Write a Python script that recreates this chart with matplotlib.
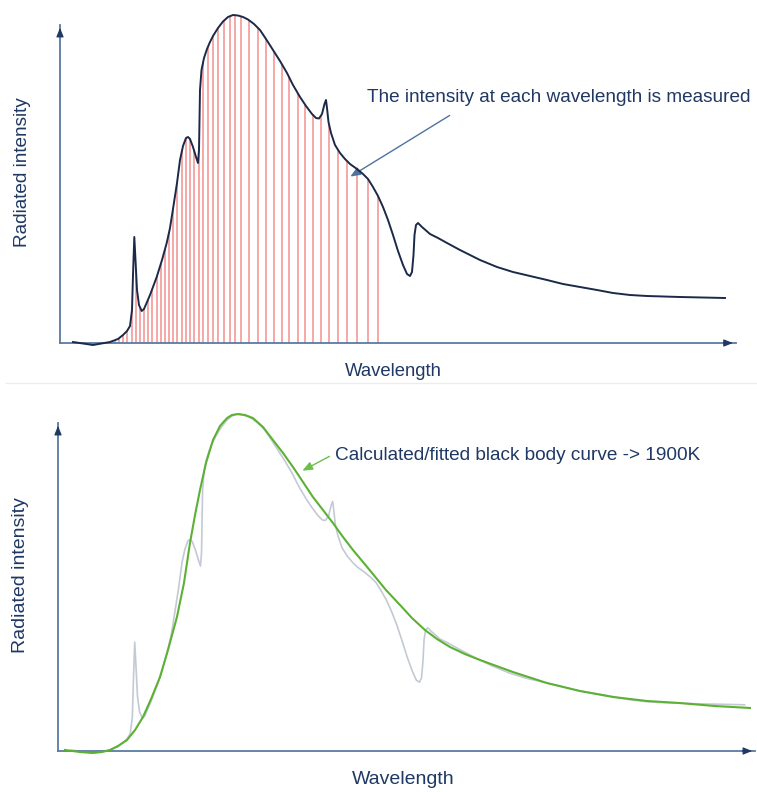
import numpy as np
import matplotlib
matplotlib.use("Agg")
import matplotlib.pyplot as plt

plt.rcParams['font.family'] = ['Liberation Sans', 'DejaVu Sans']

# Measured emission spectrum (arbitrary wavelength / intensity units)
wavelength = [13, 33, 50, 58, 63, 67, 70, 72, 73, 74.3,
              75.5, 77, 79, 81.7, 84, 90, 96.7, 102, 106.7, 110,
              113.3, 117, 120, 123, 126, 128, 130, 133, 136, 138,
              139, 139.5, 140, 141.5, 144, 147, 150, 153, 158, 163,
              168, 173, 178, 183, 188, 194, 200, 206, 213, 220,
              227, 233, 240, 246, 252, 256, 259, 262, 264.5, 266,
              267, 268.5, 271, 275, 280, 285, 290, 297, 303, 308,
              313, 318, 323, 328, 333, 338, 343, 347, 350, 352,
              353.5, 354.5, 356, 358, 362, 370, 378, 387, 400, 420,
              437, 453, 470, 487, 503, 520, 537, 553, 570, 587,
              620, 665]
intensity = [1, -2, 1, 4, 8, 12, 17, 33, 68, 106,
             83, 53, 38, 32, 34, 48, 66, 83, 100, 115,
             136, 160, 183, 197, 205, 206, 204, 196, 186, 180,
             193, 223, 253, 273, 285, 294, 301, 307, 315, 321.5,
             326, 328, 327.5, 326, 323.5, 319, 313, 304, 293, 282,
             270, 258, 246, 237, 229, 225, 224.5, 229, 239, 243,
             235, 221, 210, 198, 190, 184, 179, 174, 169, 164,
             156, 147, 136, 123, 108, 92, 78, 69, 67, 71,
             88, 108, 118, 120, 116, 109, 105, 100, 93, 83,
             76, 71, 67, 63, 59, 56, 53, 50, 48, 47,
             46, 45]

# Wavelengths at which the intensity is sampled
sample_wavelengths = [55, 59, 63, 67, 72, 76, 80, 84, 88, 92,
                      97, 101, 105, 109, 113, 117, 122, 126, 130, 134,
                      139, 143, 148, 153, 158, 164, 170, 175, 181, 189,
                      198, 206, 214, 222, 229, 238, 245, 253, 261, 269,
                      278, 287, 297, 308, 318]

# Fitted black body curve (1900 K)
fit_wavelength = [6.8, 21.3, 33.9, 42.6, 50.4, 58.1, 66.8, 74.6, 82.3, 90.1,
                  98.8, 106.5, 115.2, 122.0, 127.8, 132.7, 137.5, 143.3, 150.1, 156.9,
                  163.7, 168.5, 174.3, 181.1, 188.8, 198.5, 208.2, 217.9, 227.6, 237.3,
                  246.9, 256.6, 266.3, 276.0, 285.7, 295.4, 305.0, 317.6, 331.2, 342.8,
                  355.4, 367.0, 379.6, 394.1, 408.7, 440.6, 473.5, 505.5, 537.5, 570.4,
                  602.3, 636.2, 670.1]
fit_intensity = [1.0, -1.0, -1.9, -1.0, 1.0, 4.9, 10.7, 20.4, 33.1, 50.6,
                 72.0, 98.3, 130.5, 163.6, 202.5, 229.8, 254.1, 280.4, 302.8, 316.5,
                 324.2, 327.2, 328.1, 327.2, 324.2, 315.5, 302.8, 290.2, 276.5, 261.9,
                 247.3, 234.7, 222.0, 208.4, 195.7, 184.0, 172.3, 156.8, 142.2, 129.5,
                 117.8, 109.1, 101.3, 94.4, 88.6, 76.9, 66.2, 58.4, 52.6, 48.7,
                 46.7, 43.8, 41.9]

X_MAX, Y_MAX = 675, 316

NAVY = '#1f3864'
AXIS = '#5b7aa0'
TEXT = '#1f3864'
W, H = 757, 792

fig = plt.figure(figsize=(W / 100, H / 100), dpi=100)


def px_axes(x0, y0, x1, y1):
    # axes box placed by its pixel corners (left/bottom, right/top)
    return fig.add_axes([x0 / W, (H - y0) / H, (x1 - x0) / W, (y0 - y1) / H])


def draw_axes_arrows(ax, xtip, ytip):
    ax.plot([0, xtip], [0, 0], color=AXIS, lw=1.3, clip_on=False, zorder=3)
    ax.plot([0, 0], [0, ytip], color=AXIS, lw=1.3, clip_on=False, zorder=3)
    head = dict(arrowstyle='-|>,head_length=0.55,head_width=0.22', color=NAVY, lw=0.8)
    ax.annotate('', xy=(xtip, 0), xytext=(xtip - 15, 0), arrowprops=head,
                annotation_clip=False)
    ax.annotate('', xy=(0, ytip), xytext=(0, ytip - 12), arrowprops=head,
                annotation_clip=False)


def style(ax):
    ax.set_xlim(0, X_MAX)
    ax.set_ylim(0, Y_MAX)
    ax.axis('off')


# ---- Top panel: measured spectrum with sampled wavelengths ----
ax1 = px_axes(60, 343, 735, 27)
style(ax1)
sample_vals = np.interp(sample_wavelengths, wavelength, intensity)
ax1.vlines(sample_wavelengths, 0, sample_vals, colors='#f07f7f', alpha=0.8,
           lw=1.2, zorder=1, clip_on=False)
ax1.plot(wavelength, intensity, color='#1b2a48', lw=1.4, clip_on=False,
         zorder=4, solid_joinstyle='round')
draw_axes_arrows(ax1, 675.7, 318)
ax1.text(333, -29, 'Wavelength', ha='center', va='center',
         fontsize=13.3, color=TEXT)
ax1.text(-37, 171, 'Radiated intensity', ha='center', va='center',
         rotation=90, fontsize=13.7, color=TEXT)
ax1.text(307, 246, 'The intensity at each wavelength is measured',
         ha='left', va='center', fontsize=13.7, color=TEXT)
ax1.annotate('', xy=(288, 165), xytext=(392, 229),
             arrowprops=dict(arrowstyle='-|>,head_length=0.6,head_width=0.25',
                             color='#4f739e', lw=1.0), annotation_clip=False)

# faint separator between the panels
fig.add_artist(plt.Line2D([6 / W, 1], [(H - 383) / H] * 2, color='#ececec', lw=1.0))

# ---- Bottom panel: spectrum with fitted black body curve ----
ax2 = px_axes(58, 751, 755, 426.5)
style(ax2)
ax2.plot(wavelength, intensity, color='#c3cad4', lw=1.2, clip_on=False, zorder=2)
ax2.plot(fit_wavelength, fit_intensity, color='#5cb135', lw=1.5, clip_on=False,
         zorder=4, solid_joinstyle='round')
draw_axes_arrows(ax2, 675, 319.4)
ax2.text(334.1, -28.2, 'Wavelength', ha='center', va='center',
         fontsize=14, color=TEXT)
ax2.text(-36.8, 171.4, 'Radiated intensity', ha='center', va='center',
         rotation=90, fontsize=14, color=TEXT)
ax2.text(268.2, 288.2, 'Calculated/fitted black body curve -> 1900K',
         ha='left', va='center', fontsize=13.7, color=TEXT)
ax2.annotate('', xy=(234.3, 271.7), xytext=(265.3, 288.2),
             arrowprops=dict(arrowstyle='-|>,head_length=0.6,head_width=0.25',
                             color='#6cc04a', lw=1.0), annotation_clip=False)

fig.savefig('out.png', dpi=100)
